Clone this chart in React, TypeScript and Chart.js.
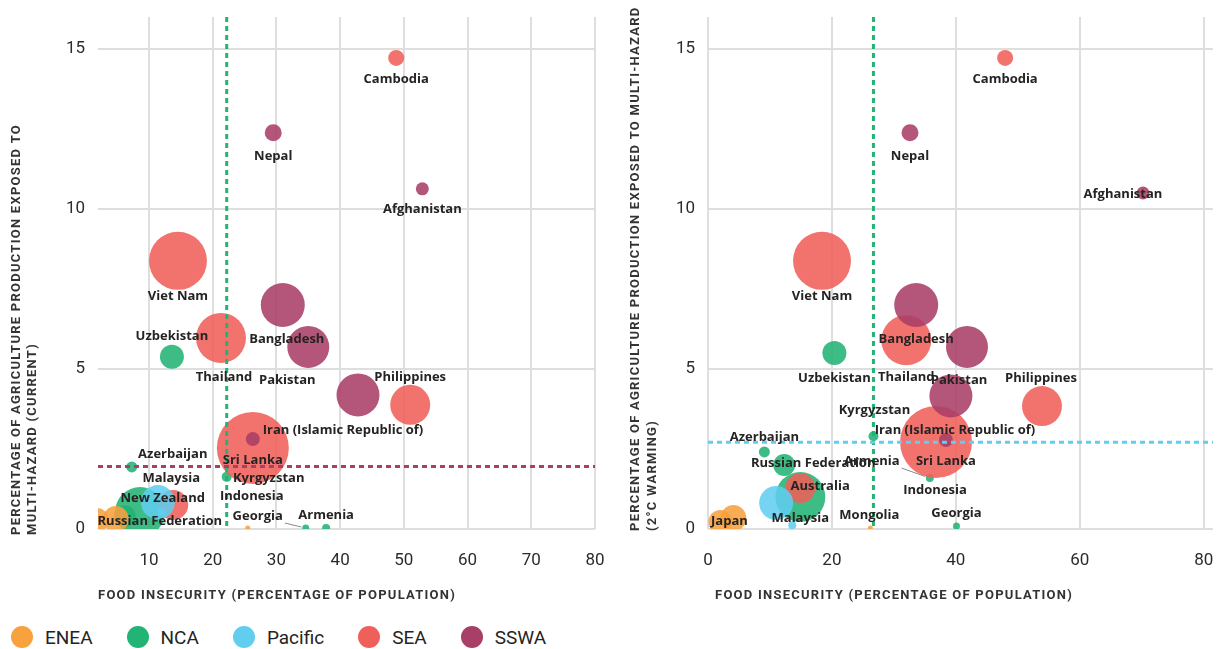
import React, { useEffect, useRef } from "react";
import { Chart, registerables } from "chart.js";

Chart.register(...registerables);

// [country, food insecurity (% of population), agriculture production exposed (%)]
type Row = [string, number, number];

const REGIONS = ["ENEA", "NCA", "Pacific", "SEA", "SSWA"] as const;
type Region = (typeof REGIONS)[number];

const REGION_COLORS: Record<Region, string> = {
  ENEA: "248,161,63",
  NCA: "34,180,116",
  Pacific: "97,206,239",
  SEA: "240,96,90",
  SSWA: "168,63,104",
};

// bubble radius (px) per country, shared by both panels
const bubbleRadius: Record<string, number> = {
  Japan: 12, China: 13, Mongolia: 2.5,
  "Russian Federation": 11, Kazakhstan: 25, Uzbekistan: 12, Azerbaijan: 5.5,
  Kyrgyzstan: 5, Georgia: 3.5, Armenia: 4,
  Australia: 17, "New Zealand": 4,
  Cambodia: 8, "Viet Nam": 29, Thailand: 25, Philippines: 20, Indonesia: 36, Malaysia: 15,
  Nepal: 8.5, Afghanistan: 6.5, Bangladesh: 22, Pakistan: 21,
  "Iran (Islamic Republic of)": 21.5, "Sri Lanka": 7,
};

// ---- Current climate ----
const eneaCurrent: Row[] = [["Japan", 1.8, 0.28], ["China", 4.8, 0.31], ["Mongolia", 25.5, 0.03]];
const ncaCurrent: Row[] = [
  ["Russian Federation", 6.2, 0.4], ["Kazakhstan", 8.6, 0.53], ["Uzbekistan", 13.6, 5.38],
  ["Azerbaijan", 7.3, 1.94], ["Kyrgyzstan", 22.2, 1.63], ["Georgia", 34.6, 0.03], ["Armenia", 37.8, 0.03],
];
const pacificCurrent: Row[] = [["Australia", 11.4, 0.84], ["New Zealand", 12.0, 0.53]];
const seaCurrent: Row[] = [
  ["Cambodia", 48.8, 14.72], ["Viet Nam", 14.55, 8.38], ["Thailand", 21.3, 5.97],
  ["Philippines", 51.0, 3.88], ["Indonesia", 26.3, 2.53], ["Malaysia", 13.8, 0.75],
];
const sswaCurrent: Row[] = [
  ["Nepal", 29.5, 12.38], ["Afghanistan", 52.9, 10.63], ["Bangladesh", 31.0, 7.0],
  ["Pakistan", 35.0, 5.69], ["Iran (Islamic Republic of)", 42.8, 4.19], ["Sri Lanka", 26.3, 2.81],
];
const currentFoodThreshold = 22.2;
const currentHazardThreshold = 1.95;

// ---- 2°C warming ----
const eneaWarming: Row[] = [["Japan", 2.0, 0.22], ["China", 4.1, 0.34], ["Mongolia", 26.2, 0.03]];
const ncaWarming: Row[] = [
  ["Russian Federation", 12.3, 2.0], ["Kazakhstan", 14.9, 1.0], ["Uzbekistan", 20.4, 5.5],
  ["Azerbaijan", 9.1, 2.41], ["Kyrgyzstan", 26.7, 2.9], ["Georgia", 40.1, 0.09], ["Armenia", 35.8, 1.59],
];
const pacificWarming: Row[] = [["Australia", 11.0, 0.81], ["New Zealand", 13.6, 0.12]];
const seaWarming: Row[] = [
  ["Cambodia", 47.95, 14.72], ["Viet Nam", 18.4, 8.38], ["Thailand", 32.0, 5.9],
  ["Philippines", 53.9, 3.84], ["Indonesia", 36.8, 2.72], ["Malaysia", 14.9, 1.28],
];
const sswaWarming: Row[] = [
  ["Nepal", 32.6, 12.38], ["Afghanistan", 70.2, 10.5], ["Bangladesh", 33.6, 7.0],
  ["Pakistan", 41.8, 5.69], ["Iran (Islamic Republic of)", 39.2, 4.16], ["Sri Lanka", 38.4, 2.78],
];
const warmingFoodThreshold = 26.7;
const warmingHazardThreshold = 2.71;

const yTicks = [0, 5, 10, 15];
const xTicksCurrent = [10, 20, 30, 40, 50, 60, 70, 80];
const xTicksWarming = [0, 20, 40, 60, 80];

const X_TITLE = "FOOD INSECURITY (PERCENTAGE OF POPULATION)";
const Y_TITLE_CURRENT = ["PERCENTAGE OF AGRICULTURE PRODUCTION EXPOSED TO", "MULTI-HAZARD (CURRENT)"];
const Y_TITLE_WARMING = ["PERCENTAGE OF AGRICULTURE PRODUCTION EXPOSED TO MULTI-HAZARD", "(2°C WARMING)"];

// label placement relative to the bubble centre: [dx, dy, leader line]
type Place = [number, number, boolean?];
const labelsCurrent: Record<string, Place> = {
  Cambodia: [0, 21], Nepal: [0, 23], Afghanistan: [0, 20], "Viet Nam": [0, 35],
  Uzbekistan: [0, -21], Bangladesh: [4, 34], Thailand: [3, 39], Pakistan: [-21, 33],
  Philippines: [0, -28], "Iran (Islamic Republic of)": [-15, 35], "Sri Lanka": [0, 21],
  Indonesia: [-1, 48], Azerbaijan: [41, -13], Kyrgyzstan: [42, 1], Malaysia: [-2, -27],
  "New Zealand": [1, -14], "Russian Federation": [35, 5], Georgia: [-48, -12, true], Armenia: [0, -13],
};
const labelsWarming: Record<string, Place> = {
  Cambodia: [0, 21], Nepal: [0, 23], Afghanistan: [-20, 1], "Viet Nam": [0, 35],
  Uzbekistan: [0, 25], Bangladesh: [0, 34], Thailand: [0, 37], Pakistan: [-8, 33],
  Philippines: [-1, -28], Kyrgyzstan: [1, -26], "Iran (Islamic Republic of)": [4, 34],
  "Sri Lanka": [0, 21], Indonesia: [-1, 48], Azerbaijan: [0, -15], "Russian Federation": [29, -2],
  Armenia: [-58, -17, true], Australia: [44, -17], Malaysia: [0, 30], Georgia: [0, -13],
  Mongolia: [-1, -13], Japan: [9, -1],
};

// drawing weight: higher numbers go underneath
const REGION_ORDER: Record<Region, number> = { NCA: 5, SEA: 4, Pacific: 3, ENEA: 2, SSWA: 1 };

const LABEL_FONT = "bold 13px 'Open Sans', 'Noto Sans', sans-serif";
const TITLE_FONT = "bold 13px Roboto, sans-serif";
const TICK_FONT = { family: "Roboto, sans-serif", size: 17 };

const panelDecor = {
  id: "panelDecor",
  afterDatasetsDraw(chart: any, _args: any, opts: any) {
    const { ctx, chartArea: a, scales } = chart;
    const x = scales.x;
    const y = scales.y;

    // threshold lines
    ctx.save();
    ctx.beginPath();
    ctx.rect(a.left, a.top, a.right - a.left, a.bottom - a.top);
    ctx.clip();
    ctx.lineWidth = 3;
    ctx.setLineDash([5, 4]);
    const vx = x.getPixelForValue(opts.vLine.value);
    ctx.strokeStyle = opts.vLine.color;
    ctx.beginPath();
    ctx.moveTo(vx, a.top);
    ctx.lineTo(vx, a.bottom);
    ctx.stroke();
    const hy = y.getPixelForValue(opts.hLine.value);
    ctx.strokeStyle = opts.hLine.color;
    ctx.beginPath();
    ctx.moveTo(a.left, hy);
    ctx.lineTo(a.right, hy);
    ctx.stroke();
    ctx.restore();

    // country labels
    ctx.save();
    ctx.font = LABEL_FONT;
    ctx.fillStyle = "#252423";
    ctx.textAlign = "center";
    ctx.textBaseline = "middle";
    chart.data.datasets.forEach((ds: any, di: number) => {
      const meta = chart.getDatasetMeta(di);
      ds.data.forEach((d: any, i: number) => {
        const place: Place | undefined = opts.labels[d.name];
        if (!place) return;
        const el = meta.data[i];
        const cx = el.x + place[0];
        const cy = el.y + place[1];
        ctx.fillText(d.name, cx, cy);
        if (place[2]) {
          const w = ctx.measureText(d.name).width;
          const sx = cx + w / 2 + 2;
          const sy = cy + 7;
          const ang = Math.atan2(el.y - sy, el.x - sx);
          const ex = el.x - Math.cos(ang) * (d.r + 1);
          const ey = el.y - Math.sin(ang) * (d.r + 1);
          ctx.save();
          ctx.strokeStyle = "#8a8a8a";
          ctx.lineWidth = 1;
          ctx.beginPath();
          ctx.moveTo(sx, sy);
          ctx.lineTo(ex, ey);
          ctx.stroke();
          ctx.restore();
        }
      });
    });
    ctx.restore();

    // axis titles
    ctx.save();
    ctx.font = TITLE_FONT;
    ctx.fillStyle = "#333333";
    (ctx as any).letterSpacing = "1.25px";
    ctx.textAlign = "left";
    ctx.textBaseline = "middle";
    ctx.fillText(opts.xTitle, a.left + opts.xTitleShift, 596);
    ctx.translate(0, opts.yTitleBottom);
    ctx.rotate(-Math.PI / 2);
    opts.yTitle.forEach((line: string, i: number) => {
      ctx.fillText(line, 0, opts.yTitleX[i]);
    });
    ctx.restore();
  },
};

function toDatasets(rows: Record<Region, Row[]>) {
  return REGIONS.map((region) => ({
    label: region,
    order: REGION_ORDER[region],
    data: rows[region].map(([name, x, y]) => ({ name, x, y, r: bubbleRadius[name] })),
    backgroundColor: `rgba(${REGION_COLORS[region]},0.88)`,
    borderWidth: 0,
    hoverBorderWidth: 0,
  }));
}

// keep tick labels from widening the layout padding
function noScalePadding(s: any) {
  s.paddingLeft = 0;
  s.paddingRight = 0;
  s.paddingTop = 0;
  s.paddingBottom = 0;
}

interface PanelProps {
  left: number;
  width: number;
  rows: Record<Region, Row[]>;
  xMin: number;
  xMax: number;
  xTicks: number[];
  yAxisWidth: number;
  rightPad: number;
  vLine: { value: number; color: string };
  hLine: { value: number; color: string };
  labels: Record<string, Place>;
  yTitle: string[];
  yTitleX: number[];
  yTitleBottom: number;
  xTitleShift: number;
}

const PANEL_H = 612;

function ExposurePanel(p: PanelProps) {
  const ref = useRef<HTMLCanvasElement | null>(null);

  useEffect(() => {
    if (!ref.current) return;
    const chart = new Chart(ref.current, {
      type: "bubble",
      data: { datasets: toDatasets(p.rows) as any },
      plugins: [panelDecor as any],
      options: {
        animation: false,
        responsive: false,
        devicePixelRatio: 1,
        events: [],
        layout: { autoPadding: false, padding: { top: 17, right: p.rightPad, left: 0, bottom: 0 } },
        plugins: {
          legend: { display: false },
          tooltip: { enabled: false },
          panelDecor: {
            vLine: p.vLine,
            hLine: p.hLine,
            labels: p.labels,
            xTitle: X_TITLE,
            xTitleShift: p.xTitleShift,
            yTitle: p.yTitle,
            yTitleX: p.yTitleX,
            yTitleBottom: p.yTitleBottom,
          },
        } as any,
        scales: {
          x: {
            type: "linear",
            min: p.xMin,
            max: p.xMax,
            afterBuildTicks: (s: any) => {
              s.ticks = p.xTicks.map((v) => ({ value: v }));
            },
            afterFit: (s: any) => {
              s.height = PANEL_H - 529;
              noScalePadding(s);
            },
            grid: { color: "#dedede", lineWidth: 2, drawTicks: false },
            border: { display: false },
            ticks: {
              padding: 22,
              color: "#2b2b2b",
              font: TICK_FONT,
              maxRotation: 0,
              autoSkip: false,
            },
          },
          y: {
            type: "linear",
            min: 0,
            max: 16,
            afterBuildTicks: (s: any) => {
              s.ticks = yTicks.map((v) => ({ value: v }));
            },
            afterFit: (s: any) => {
              s.width = p.yAxisWidth;
              noScalePadding(s);
            },
            grid: { color: "#dedede", lineWidth: 2, drawTicks: false },
            border: { display: false },
            ticks: { padding: 13, color: "#2b2b2b", font: TICK_FONT },
          },
        },
      },
    });
    return () => chart.destroy();
  }, []);

  return (
    <canvas
      ref={ref}
      width={p.width}
      height={PANEL_H}
      style={{ position: "absolute", left: p.left, top: 0, width: p.width, height: PANEL_H }}
    />
  );
}

function Legend() {
  return (
    <div
      style={{
        position: "absolute",
        left: 11,
        top: 626,
        height: 22,
        display: "flex",
        alignItems: "center",
        fontFamily: "Roboto, sans-serif",
        fontSize: 19,
        color: "#252423",
      }}
    >
      {REGIONS.map((r) => (
        <div key={r} style={{ display: "flex", alignItems: "center", marginRight: 34 }}>
          <span
            style={{
              display: "inline-block",
              width: 22,
              height: 22,
              borderRadius: "50%",
              background: `rgb(${REGION_COLORS[r]})`,
              marginRight: 12,
            }}
          />
          <span>{r}</span>
        </div>
      ))}
    </div>
  );
}

export default function App() {
  return (
    <div
      style={{
        position: "fixed",
        left: 0,
        top: 0,
        width: 1221,
        height: 649,
        background: "#ffffff",
        overflow: "hidden",
      }}
    >
      <ExposurePanel
        left={0}
        width={612}
        rows={{ ENEA: eneaCurrent, NCA: ncaCurrent, Pacific: pacificCurrent, SEA: seaCurrent, SSWA: sswaCurrent }}
        xMin={2}
        xMax={80}
        xTicks={xTicksCurrent}
        yAxisWidth={98}
        rightPad={17}
        vLine={{ value: currentFoodThreshold, color: "#22B474" }}
        hLine={{ value: currentHazardThreshold, color: "#A83F68" }}
        labels={labelsCurrent}
        yTitle={Y_TITLE_CURRENT}
        yTitleX={[17, 33]}
        yTitleBottom={535}
        xTitleShift={0}
      />
      <ExposurePanel
        left={612}
        width={609}
        rows={{ ENEA: eneaWarming, NCA: ncaWarming, Pacific: pacificWarming, SEA: seaWarming, SSWA: sswaWarming }}
        xMin={0}
        xMax={81.5}
        xTicks={xTicksWarming}
        yAxisWidth={96}
        rightPad={8}
        vLine={{ value: warmingFoodThreshold, color: "#22B474" }}
        hLine={{ value: warmingHazardThreshold, color: "#61CEEF" }}
        labels={labelsWarming}
        yTitle={Y_TITLE_WARMING}
        yTitleX={[24, 41]}
        yTitleBottom={531}
        xTitleShift={7}
      />
      <Legend />
    </div>
  );
}
